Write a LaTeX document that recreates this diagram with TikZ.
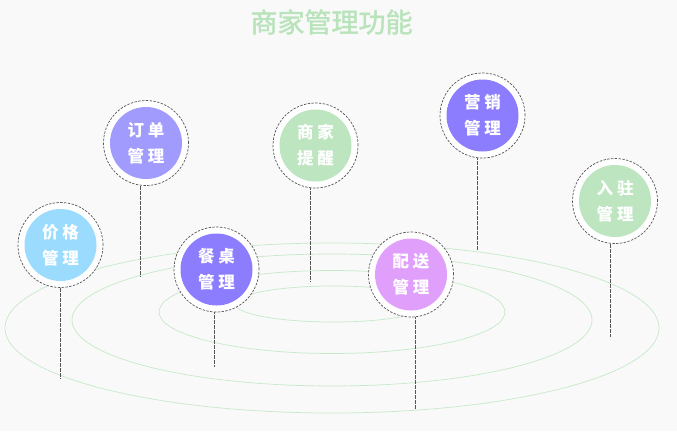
\documentclass[tikz,border=0pt]{standalone}
\usepackage{fontspec}
\newfontfamily\cjk{Noto Sans CJK SC}
\newfontfamily\cjkmid[FakeBold=1.6]{Noto Sans CJK SC}
\definecolor{bgc}{HTML}{F9F9F9}
\definecolor{titlec}{HTML}{B9E4BB}
\definecolor{orbitc}{HTML}{C6E9C7}
\definecolor{stemc}{HTML}{555555}
\definecolor{cblue}{HTML}{9BDCFE}
\definecolor{clilac}{HTML}{A29BFE}
\definecolor{cgreen}{HTML}{BDE5C0}
\definecolor{cviolet}{HTML}{8B7DFE}
\definecolor{cpink}{HTML}{E19FFC}
\begin{document}
\begin{tikzpicture}[x=1pt,y=-1pt,
  ring/.style={circle,draw=stemc,line width=0.7pt,dash pattern=on 2.4pt off 1.4pt,
    fill=white,minimum size=85pt,inner sep=0pt},
  disk/.style={circle,minimum size=72pt,inner sep=0pt,text=white,
    font=\cjk\bfseries\fontsize{16.5}{26}\selectfont,align=center},
  stem/.style={draw=stemc,line width=1pt,dash pattern=on 2pt off 0.5pt},
  orbit/.style={draw=orbitc,line width=0.7pt}]
\useasboundingbox (0,0) rectangle (677,431);
\fill[bgc] (0,0) rectangle (677,431);

% title
\node[text=titlec,font=\cjkmid\fontsize{27}{30}\selectfont] (title) at (331.5,22) {商家管理功能};

% concentric orbits
\draw[orbit] (332,328) ellipse [x radius=327,y radius=85];
\draw[orbit] (332,320) ellipse [x radius=260,y radius=66];
\draw[orbit] (332,312) ellipse [x radius=173,y radius=41.5];
\draw[orbit] (333,304) ellipse [x radius=98,y radius=18];

% stem end points
\coordinate (e1) at (60.5,379);
\coordinate (e2) at (140.5,277);
\coordinate (e3) at (310.5,281);
\coordinate (e4) at (477,250);
\coordinate (e5) at (610,337);
\coordinate (e6) at (214,367);
\coordinate (e7) at (415.5,409);

% rings
\node[ring] (r1) at (60.5,245) {};
\node[ring] (r2) at (146,143) {};
\node[ring] (r3) at (315.5,145.5) {};
\node[ring] (r4) at (482.5,115.5) {};
\node[ring] (r5) at (615,201) {};
\node[ring] (r6) at (216.5,269.5) {};
\node[ring] (r7) at (411,274.5) {};

% stems
\draw[stem] (r1.south) -- (e1);
\draw[stem] (r2.south -| e2) -- (e2);
\draw[stem] (r3.south -| e3) -- (e3);
\draw[stem] (r4.south -| e4) -- (e4);
\draw[stem] (r5.south -| e5) -- (e5);
\draw[stem] (r6.south -| e6) -- (e6);
\draw[stem] (r7.south -| e7) -- (e7);

% coloured disks with labels
\node[disk,fill=cblue] (d1) at (r1) {价\hspace{4pt}格\\管\hspace{4pt}理};
\node[disk,fill=clilac] (d2) at (r2) {订\hspace{4pt}单\\管\hspace{4pt}理};
\node[disk,fill=cgreen] (d3) at (r3) {商\hspace{4pt}家\\提\hspace{4pt}醒};
\node[disk,fill=cviolet] (d4) at (r4) {营\hspace{4pt}销\\管\hspace{4pt}理};
\node[disk,fill=cgreen] (d5) at (r5) {入\hspace{4pt}驻\\管\hspace{4pt}理};
\node[disk,fill=cviolet] (d6) at (r6) {餐\hspace{4pt}桌\\管\hspace{4pt}理};
\node[disk,fill=cpink] (d7) at (r7) {配\hspace{4pt}送\\管\hspace{4pt}理};
\end{tikzpicture}
\end{document}
